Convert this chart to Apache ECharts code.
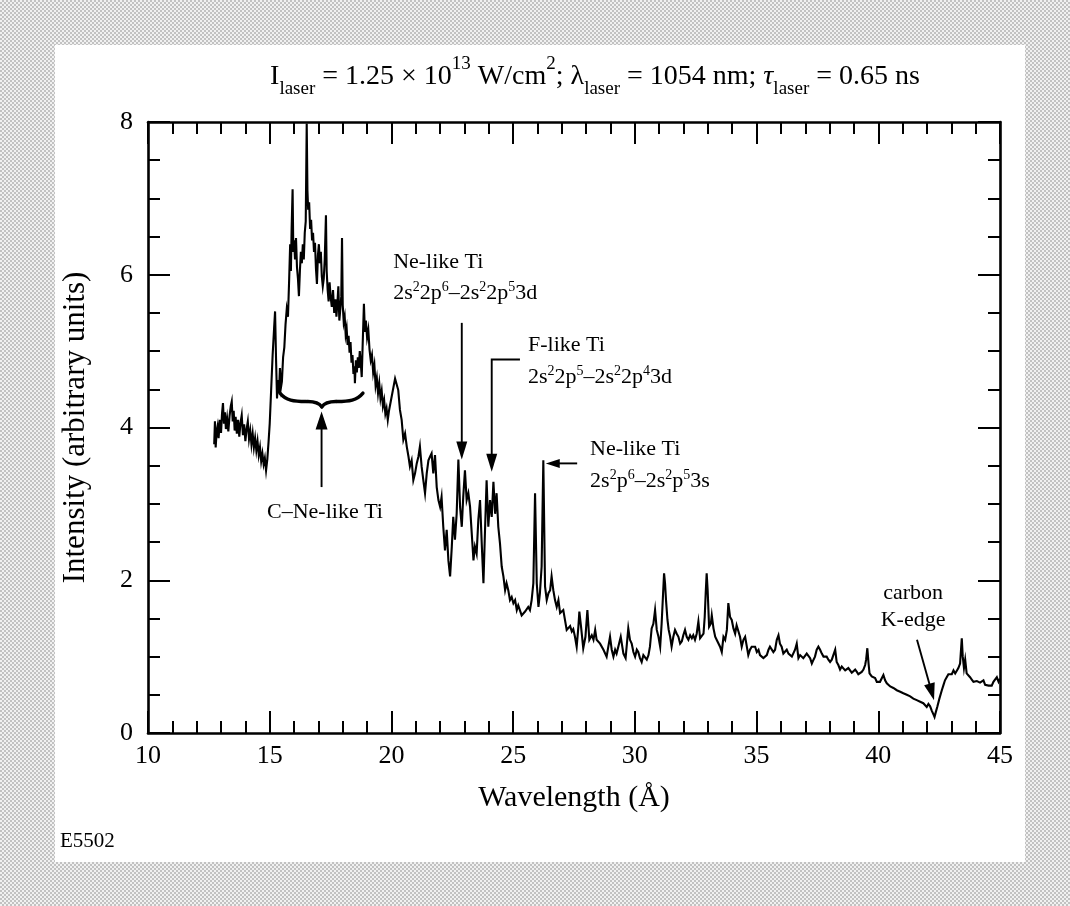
<!DOCTYPE html>
<html>
<head>
<meta charset="utf-8">
<script src="https://cdn.jsdelivr.net/npm/echarts@6/dist/echarts.min.js"></script>
<style>
  html, body { margin: 0; padding: 0; }
  body {
    width: 1070px; height: 906px; overflow: hidden; position: relative;
    background: repeating-conic-gradient(#c2c2c2 0 25%, #f1f1f1 0 50%) 0 0 / 4px 4px;
  }
  #panel { position: absolute; left: 55px; top: 45px; width: 970px; height: 817px; background: #fff; }
  #chart { position: absolute; left: 0; top: 0; width: 1070px; height: 906px; }
</style>
</head>
<body>
<div id="panel"></div>
<div id="chart"></div>
<script>
// Ti spectrum: wavelength (Å) and intensity (arbitrary units)
const wavelength = [
  12.72, 12.75, 12.78, 12.82, 12.86, 12.90, 12.95, 13.00, 13.04, 13.08, 13.12, 13.16, 13.20, 13.25, 13.30, 13.35,
  13.40, 13.44, 13.48, 13.52, 13.56, 13.60, 13.65, 13.70, 13.75, 13.80, 13.85, 13.90, 13.95, 14.00, 14.05, 14.10,
  14.15, 14.20, 14.25, 14.30, 14.35, 14.40, 14.45, 14.50, 14.55, 14.60, 14.65, 14.70, 14.75, 14.80, 14.85, 14.90,
  14.95, 15.00, 15.06, 15.12, 15.18, 15.22, 15.26, 15.30, 15.34, 15.38, 15.42, 15.46, 15.50, 15.55, 15.60, 15.65,
  15.70, 15.75, 15.80, 15.84, 15.87, 15.90, 15.94, 15.97, 16.00, 16.04, 16.08, 16.12, 16.16, 16.20, 16.24, 16.28,
  16.32, 16.36, 16.40, 16.44, 16.48, 16.52, 16.55, 16.58, 16.62, 16.66, 16.70, 16.74, 16.78, 16.82, 16.86, 16.90,
  16.94, 16.98, 17.02, 17.06, 17.10, 17.14, 17.18, 17.22, 17.26, 17.31, 17.34, 17.38, 17.42, 17.46, 17.50, 17.55,
  17.60, 17.65, 17.70, 17.74, 17.78, 17.82, 17.86, 17.90, 17.94, 17.97, 18.00, 18.04, 18.08, 18.12, 18.16, 18.20,
  18.24, 18.28, 18.32, 18.36, 18.40, 18.44, 18.48, 18.50, 18.54, 18.58, 18.62, 18.66, 18.70, 18.74, 18.78, 18.82,
  18.87, 18.91, 18.95, 19.00, 19.05, 19.10, 19.15, 19.20, 19.25, 19.30, 19.35, 19.40, 19.45, 19.50, 19.55, 19.60,
  19.65, 19.70, 19.75, 19.80, 19.85, 19.90,
  19.94, 20.15, 20.28, 20.35, 20.42, 20.49, 20.56, 20.63, 20.70, 20.76, 20.83, 20.90, 20.97, 21.04, 21.11, 21.17,
  21.24, 21.31, 21.38, 21.45, 21.52, 21.59, 21.65, 21.72, 21.79, 21.86, 21.93, 22.00, 22.06, 22.13, 22.20, 22.27,
  22.34, 22.41, 22.48, 22.54, 22.61, 22.68, 22.75, 22.82, 22.89, 22.95, 23.02, 23.09, 23.16, 23.23, 23.30, 23.37,
  23.43, 23.50, 23.57, 23.64, 23.71, 23.78, 23.84, 23.91, 23.98, 24.05, 24.12, 24.19, 24.26, 24.32, 24.39, 24.46,
  24.53, 24.60, 24.67, 24.73, 24.80, 24.87, 24.94, 25.01, 25.08, 25.15, 25.21, 25.28, 25.35, 25.42, 25.49, 25.56,
  25.62, 25.69, 25.76, 25.83, 25.90, 25.97, 26.04, 26.10, 26.17, 26.24, 26.31, 26.38, 26.45, 26.52, 26.58, 26.65,
  26.72, 26.79, 26.86, 26.93, 27.06,
  27.13, 27.20, 27.27, 27.34, 27.41, 27.47, 27.54, 27.61, 27.68, 27.72, 27.79, 27.88, 27.97, 28.05, 28.13, 28.23,
  28.30, 28.37, 28.43, 28.50, 28.57, 28.64, 28.71, 28.78, 28.84, 28.91, 28.98, 29.05, 29.12, 29.19, 29.25, 29.32,
  29.42, 29.53, 29.62, 29.73, 29.80, 29.87, 29.94, 30.01, 30.08, 30.14, 30.21, 30.28, 30.35, 30.42, 30.49, 30.56,
  30.62, 30.69, 30.76, 30.83, 30.90, 30.97, 31.04, 31.10, 31.16, 31.20, 31.24, 31.28, 31.34, 31.39, 31.45, 31.51,
  31.58, 31.65, 31.72, 31.79, 31.86, 31.93, 31.99, 32.06, 32.13, 32.20, 32.27, 32.34, 32.40, 32.47, 32.54, 32.61,
  32.68, 32.75, 32.82, 32.87, 32.91, 32.95, 32.99, 33.05, 33.12, 33.16, 33.23, 33.30, 33.36, 33.43, 33.50, 33.57,
  33.64, 33.71, 33.78, 33.84, 33.91, 33.98, 34.05, 34.12, 34.18, 34.25, 34.32, 34.39, 34.46, 34.53, 34.60, 34.66,
  34.73, 34.80, 34.87, 34.94, 35.01, 35.08, 35.14, 35.21, 35.28, 35.35, 35.42, 35.49, 35.55, 35.62, 35.69, 35.76,
  35.83, 35.90, 35.96, 36.03, 36.10, 36.17, 36.24, 36.31,
  36.38, 36.45, 36.51, 36.58, 36.65, 36.72, 36.79, 36.86, 36.92, 36.99, 37.06, 37.13, 37.20, 37.27, 37.34, 37.40,
  37.47, 37.54, 37.61, 37.68, 37.75, 37.81, 37.88, 37.95, 38.02, 38.09, 38.16, 38.23, 38.29, 38.36, 38.43, 38.50,
  38.57, 38.64, 38.70, 38.77, 38.84, 38.91, 38.98, 39.05, 39.12, 39.18, 39.25, 39.32, 39.39, 39.46, 39.50, 39.55,
  39.60, 39.64, 39.73, 39.80, 39.87, 39.94, 40.01, 40.07, 40.14, 40.21, 40.28, 40.35, 40.42, 40.49, 40.55, 40.62,
  40.69, 40.76, 40.83, 40.90, 40.97, 41.03, 41.10, 41.17, 41.24, 41.31, 41.38, 41.44, 41.51, 41.58, 41.65, 41.72,
  41.79, 41.85, 41.92, 41.99, 42.06, 42.13, 42.20, 42.27, 42.31, 42.36, 42.43, 42.51, 42.61, 42.68, 42.74, 42.81,
  42.88, 42.95, 43.02, 43.09, 43.16, 43.22, 43.29, 43.36, 43.43, 43.47, 43.52, 43.57, 43.63, 43.70, 43.77, 43.84,
  43.91, 43.98, 44.05, 44.11, 44.18, 44.25, 44.32, 44.39, 44.46, 44.53, 44.59, 44.66, 44.73, 44.80, 44.87, 44.94,
  45.00
];
const intensity = [
  3.78, 4.08, 3.74, 3.95, 4.02, 3.86, 4.10, 3.93, 4.18, 4.32, 4.05, 4.20, 3.98, 4.12, 3.95, 4.15,
  4.28, 4.34, 4.08, 4.22, 3.96, 4.14, 3.92, 4.10, 3.88, 4.06, 4.16, 3.90, 4.04, 3.82, 3.98, 4.08,
  3.85, 3.96, 3.78, 3.92, 3.74, 3.86, 3.70, 3.82, 3.64, 3.74, 3.56, 3.66, 3.52, 3.60, 3.44, 3.58,
  3.80, 4.05, 4.50, 4.95, 5.30, 5.52, 4.90, 4.38, 4.62, 4.45, 4.78, 4.52, 4.60, 4.92, 5.05, 5.35,
  5.55, 5.45, 5.95, 6.40, 6.05, 6.60, 7.12, 6.30, 6.45, 6.20, 6.48, 6.10, 5.95, 5.72, 6.05, 6.30,
  6.15, 6.40, 6.20, 6.55, 6.70, 7.98, 7.10, 6.85, 6.95, 6.60, 6.72, 6.45, 6.55, 6.30, 6.42, 6.08,
  5.88, 6.25, 6.40, 6.15, 6.30, 5.98, 5.85, 5.95, 6.20, 6.78, 6.05, 5.80, 5.65, 5.90, 5.72, 5.58,
  5.80, 5.50, 5.68, 5.45, 5.62, 5.85, 5.40, 5.55, 5.72, 6.48, 5.60, 5.38, 5.45, 5.22, 5.30, 5.08,
  5.20, 4.98, 5.12, 4.85, 4.95, 4.70, 4.80, 4.58, 4.88, 4.72, 4.92, 4.78, 5.00, 4.85, 4.66, 5.10,
  5.62, 5.25, 5.40, 5.18, 5.28, 5.02, 4.88, 4.95, 4.72, 4.82, 4.55, 4.65, 4.45, 4.58, 4.38, 4.48,
  4.28, 4.36, 4.18, 4.25, 4.10, 4.22,
  4.23, 4.64, 4.49, 4.23, 4.10, 3.84, 3.92, 3.75, 3.62, 3.49, 3.57, 3.31, 3.40, 3.53, 3.62, 3.75,
  3.49, 3.31, 3.14, 3.40, 3.57, 3.62, 3.66, 3.40, 3.64, 3.22, 3.05, 2.96, 3.09, 2.70, 2.39, 2.66,
  2.26, 2.05, 2.44, 2.83, 2.53, 2.87, 3.58, 2.96, 2.70, 3.09, 3.44, 3.05, 3.14, 2.96, 2.61, 2.26,
  2.44, 2.35, 2.79, 3.05, 2.48, 1.96, 2.61, 3.31, 2.70, 3.05, 2.83, 3.29, 2.87, 3.14, 2.70, 2.48,
  2.18, 2.05, 1.87, 1.96, 1.87, 1.74, 1.78, 1.70, 1.74, 1.61, 1.67, 1.65, 1.54, 1.52, 1.59, 1.57,
  1.65, 1.61, 1.74, 1.96, 3.14, 1.96, 1.65, 1.83, 2.18, 3.57, 1.92, 1.74, 1.83, 1.87, 2.05, 1.87,
  1.74, 1.65, 1.74, 1.57, 1.61,
  1.59, 1.35, 1.37, 1.40, 1.33, 1.36, 1.26, 1.13, 1.39, 1.59, 1.39, 1.11, 1.26, 1.61, 1.22, 1.28,
  1.22, 1.35, 1.22, 1.24, 1.17, 1.15, 1.09, 1.11, 1.00, 1.13, 1.26, 1.09, 1.00, 1.09, 1.04, 1.13,
  1.26, 1.04, 0.98, 1.37, 1.22, 1.17, 1.06, 1.00, 1.09, 1.06, 0.98, 0.93, 1.02, 1.04, 0.96, 1.02,
  1.13, 1.37, 1.43, 1.61, 1.35, 1.26, 1.13, 1.43, 1.83, 2.09, 1.96, 1.74, 1.48, 1.35, 1.26, 1.13,
  1.26, 1.35, 1.30, 1.26, 1.17, 1.20, 1.28, 1.35, 1.26, 1.22, 1.28, 1.24, 1.28, 1.22, 1.30, 1.46,
  1.24, 1.22, 1.30, 1.52, 1.83, 2.09, 1.87, 1.39, 1.43, 1.54, 1.37, 1.26, 1.22, 1.20, 1.13, 1.06,
  1.26, 1.22, 1.35, 1.70, 1.52, 1.48, 1.37, 1.30, 1.41, 1.43, 1.26, 1.13, 1.22, 1.26, 1.13, 1.02,
  1.09, 1.13, 1.11, 1.13, 1.06, 1.09, 1.02, 1.00, 0.98, 0.96, 1.02, 1.09, 1.13, 1.11, 1.06, 1.09,
  1.22, 1.28, 1.17, 1.13, 1.04, 1.02, 1.09, 1.04,
  1.04, 1.00, 0.98, 1.09, 1.17, 0.98, 1.02, 1.02, 0.98, 1.01, 1.04, 1.06, 0.98, 0.91, 0.96, 1.00,
  1.09, 1.13, 1.09, 1.04, 1.00, 0.98, 1.00, 0.96, 0.93, 0.96, 0.98, 1.09, 0.93, 0.89, 0.83, 0.87,
  0.85, 0.82, 0.80, 0.85, 0.83, 0.79, 0.78, 0.83, 0.80, 0.77, 0.76, 0.80, 0.83, 0.89, 0.96, 1.11,
  0.91, 0.78, 0.74, 0.76, 0.72, 0.67, 0.65, 0.67, 0.69, 0.76, 0.69, 0.65, 0.63, 0.61, 0.62, 0.59,
  0.60, 0.56, 0.57, 0.54, 0.55, 0.52, 0.53, 0.50, 0.51, 0.48, 0.48, 0.45, 0.47, 0.43, 0.44, 0.41,
  0.42, 0.39, 0.37, 0.34, 0.38, 0.35, 0.29, 0.24, 0.21, 0.27, 0.35, 0.45, 0.56, 0.63, 0.69, 0.73,
  0.77, 0.79, 0.77, 0.82, 0.78, 0.76, 0.85, 0.91, 1.24, 1.00, 0.85, 0.96, 0.78, 0.76, 0.73, 0.70,
  0.67, 0.69, 0.68, 0.70, 0.66, 0.68, 0.69, 0.63, 0.61, 0.62, 0.64, 0.62, 0.67, 0.69, 0.73, 0.67,
  0.71
];

// Axis ranges and tick spacing
const xRange = [10, 45];
const xStep = 5;
const yRange = [0, 8];
const yStep = 2;

// Annotation anchors, in (wavelength, intensity)
const cNeBrace = { left: 15.42, tip: 17.14, right: 18.83, top: 4.45, bar: 4.34, point: 4.27 };
const cNeArrow = [[17.13, 3.22], [17.13, 4.21]];
const neLike3dArrow = [[22.89, 5.37], [22.89, 3.58]];
const fLikeArrow = [[25.28, 4.89], [24.12, 4.89], [24.12, 3.42]];
const neLike3sArrow = [[27.63, 3.53], [26.34, 3.53]];
const carbonArrow = [[41.59, 1.22], [42.29, 0.43]];

const annotationText = [
  { at: [17.27, 2.89], text: 'C–Ne-like Ti', align: 'center' },
  { at: [20.07, 6.16], text: 'Ne-like Ti', align: 'left' },
  { at: [20.07, 5.76], text: '2s{sup|2}2p{sup|6}–2s{sup|2}2p{sup|5}3d', align: 'left' },
  { at: [25.61, 5.08], text: 'F-like Ti', align: 'left' },
  { at: [25.61, 4.66], text: '2s{sup|2}2p{sup|5}–2s{sup|2}2p{sup|4}3d', align: 'left' },
  { at: [28.16, 3.72], text: 'Ne-like Ti', align: 'left' },
  { at: [28.16, 3.30], text: '2s{sup|2}p{sup|6}–2s{sup|2}p{sup|5}3s', align: 'left' },
  { at: [41.43, 1.83], text: 'carbon', align: 'center' },
  { at: [41.43, 1.48], text: 'K-edge', align: 'center' }
];

const SERIF = '"Liberation Serif", "Times New Roman", "DejaVu Serif", serif';
const INK = '#000';

const chart = echarts.init(document.getElementById('chart'), null, { renderer: 'canvas' });

function frameAxis(base) {
  return Object.assign({
    type: 'value',
    axisLine: { show: true, onZero: false, lineStyle: { color: INK, width: 2.6 } },
    axisTick: { show: true, inside: true, length: 22, lineStyle: { color: INK, width: 2 } },
    splitLine: { show: false },
    minorSplitLine: { show: false },
    nameMoveOverlap: false
  }, base);
}

const labelStyle = { color: INK, fontFamily: SERIF, fontSize: 26 };
const nameStyle = { color: INK, fontFamily: SERIF, fontSize: 30 };

const option = {
  backgroundColor: 'transparent',
  animation: false,
  grid: { left: 148, right: 70, top: 122, bottom: 173, containLabel: false, outerBoundsMode: 'none' },
  xAxis: [
    frameAxis({
      position: 'bottom', min: xRange[0], max: xRange[1], interval: xStep,
      minorTick: { show: true, splitNumber: 5, length: 12, lineStyle: { color: INK, width: 2 } },
      axisLabel: Object.assign({ margin: 10 }, labelStyle),
      name: 'Wavelength (Å)', nameLocation: 'middle', nameGap: 50, nameTextStyle: nameStyle
    }),
    frameAxis({
      position: 'top', min: xRange[0], max: xRange[1], interval: xStep,
      minorTick: { show: true, splitNumber: 5, length: 12, lineStyle: { color: INK, width: 2 } },
      axisLabel: { show: false }
    })
  ],
  yAxis: [
    frameAxis({
      position: 'left', min: yRange[0], max: yRange[1], interval: yStep,
      minorTick: { show: true, splitNumber: 4, length: 12, lineStyle: { color: INK, width: 2 } },
      axisLabel: Object.assign({ margin: 15 }, labelStyle),
      name: 'Intensity (arbitrary units)', nameLocation: 'middle', nameRotate: 90, nameGap: 57,
      nameTextStyle: Object.assign({}, nameStyle, { fontSize: 31 })
    }),
    frameAxis({
      position: 'right', min: yRange[0], max: yRange[1], interval: yStep,
      minorTick: { show: true, splitNumber: 4, length: 12, lineStyle: { color: INK, width: 2 } },
      axisLabel: { show: false }
    })
  ],
  series: [{
    type: 'line',
    xAxisIndex: 0,
    yAxisIndex: 0,
    data: wavelength.map((w, i) => [w, intensity[i]]),
    showSymbol: false,
    symbol: 'none',
    silent: true,
    lineStyle: { color: INK, width: 2.1, join: 'miter' }
  }]
};

chart.setOption(option);

// Annotation layer: arrows, brace and labels placed from data coordinates
function buildAnnotations() {
  const P = p => chart.convertToPixel({ seriesIndex: 0 }, p);
  const g = [];

  function line(pts, w) {
    g.push({ type: 'polyline', silent: true, z: 20, shape: { points: pts },
      style: { stroke: INK, lineWidth: w, fill: null } });
  }
  function curve(a, c1, c2, b, w) {
    g.push({ type: 'bezierCurve', silent: true, z: 20,
      shape: { x1: a[0], y1: a[1], cpx1: c1[0], cpy1: c1[1], cpx2: c2[0], cpy2: c2[1], x2: b[0], y2: b[1] },
      style: { stroke: INK, lineWidth: w, fill: null, lineCap: 'round' } });
  }
  function arrow(path, len, half) {
    const pts = path.map(P);
    const tip = pts[pts.length - 1], prev = pts[pts.length - 2];
    const dx = tip[0] - prev[0], dy = tip[1] - prev[1];
    const d = Math.hypot(dx, dy), ux = dx / d, uy = dy / d;
    const bx = tip[0] - ux * len, by = tip[1] - uy * len;
    const shaft = pts.slice(0, -1).concat([[bx + ux * 2, by + uy * 2]]);
    line(shaft, 1.9);
    g.push({ type: 'polygon', silent: true, z: 21,
      shape: { points: [tip, [bx - uy * half, by + ux * half], [bx + uy * half, by - ux * half]] },
      style: { fill: INK } });
  }

  arrow(cNeArrow, 18, 6);
  arrow(neLike3dArrow, 18, 5.5);
  arrow(fLikeArrow, 18, 5.5);
  arrow(neLike3sArrow, 14, 4.5);
  arrow(carbonArrow, 17, 5.5);

  // curly brace over the C- to Ne-like band
  const L = P([cNeBrace.left, cNeBrace.top]);
  const R = P([cNeBrace.right, cNeBrace.top]);
  const C = P([cNeBrace.tip, cNeBrace.point]);
  const yT = L[1], yM = P([cNeBrace.tip, cNeBrace.bar])[1], yP = C[1];
  const xL = L[0], xR = R[0], xC = C[0];
  const bw = 3.4;
  curve([xL, yT], [xL + 6, yM - 1], [xL + 14, yM], [xL + 26, yM], bw);
  line([[xL + 26, yM], [xC - 14, yM]], bw);
  curve([xC - 14, yM], [xC - 6, yM], [xC - 2, yP - 3], [xC, yP], bw);
  curve([xC, yP], [xC + 2, yP - 3], [xC + 6, yM], [xC + 14, yM], bw);
  line([[xC + 14, yM], [xR - 26, yM]], bw);
  curve([xR - 26, yM], [xR - 14, yM], [xR - 6, yM - 1], [xR, yT], bw);

  annotationText.forEach(t => {
    const p = P(t.at);
    g.push({ type: 'text', silent: true, z: 22, x: p[0], y: p[1],
      style: {
        text: t.text, fill: INK, fontFamily: SERIF, fontSize: 22, lineHeight: 26,
        align: t.align, verticalAlign: 'middle',
        rich: { sup: { fontFamily: SERIF, fontSize: 14, lineHeight: 14, verticalAlign: 'top', fill: INK } }
      } });
  });

  // heading with laser parameters
  g.push({ type: 'text', silent: true, z: 22, x: 595, y: 77,
    style: {
      text: 'I{sub|laser} = 1.25 × 10{sup|13} W/cm{sup|2}; λ{sub|laser} = 1054 nm; {it|τ}{sub|laser} = 0.65 ns',
      fill: INK, fontFamily: SERIF, fontSize: 28, lineHeight: 44,
      align: 'center', verticalAlign: 'middle',
      rich: {
        sub: { fontFamily: SERIF, fontSize: 19, lineHeight: 19, verticalAlign: 'bottom', fill: INK },
        sup: { fontFamily: SERIF, fontSize: 19, lineHeight: 19, verticalAlign: 'top', fill: INK },
        it: { fontFamily: SERIF, fontSize: 28, fontStyle: 'italic', lineHeight: 44, fill: INK }
      }
    } });

  // figure number
  g.push({ type: 'text', silent: true, z: 22, x: 60, y: 841,
    style: { text: 'E5502', fill: INK, fontFamily: SERIF, fontSize: 21, align: 'left', verticalAlign: 'middle' } });

  chart.setOption({ graphic: { elements: g } });
}

buildAnnotations();
</script>
</body>
</html>
